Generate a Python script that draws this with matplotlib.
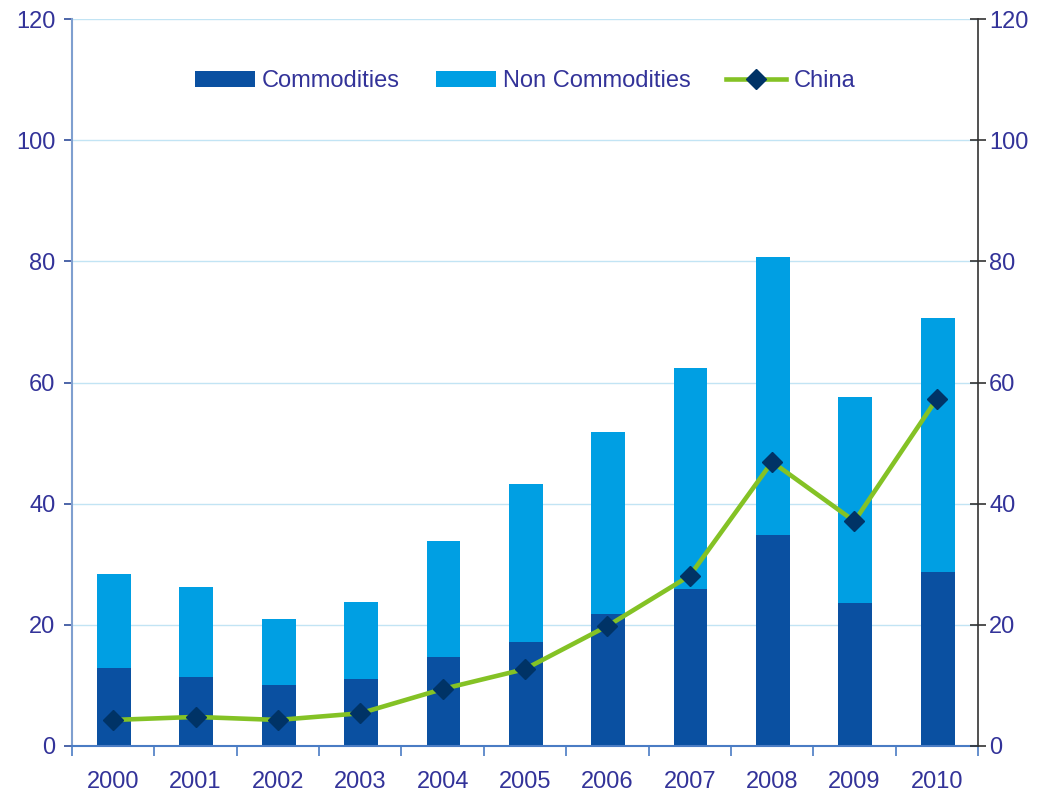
import matplotlib
matplotlib.use("Agg")
import matplotlib.pyplot as plt
import numpy as np

years = ["2000", "2001", "2002", "2003", "2004", "2005", "2006", "2007", "2008", "2009", "2010"]
commodities = [12.9, 11.4, 10.1, 11.1, 14.7, 17.2, 21.8, 25.9, 34.8, 23.6, 28.7]
totals = [28.4, 26.2, 21.0, 23.8, 33.8, 43.2, 51.8, 62.4, 80.7, 57.6, 70.6]
non_commodities = [t - c for t, c in zip(totals, commodities)]
china = [4.3, 4.8, 4.3, 5.4, 9.4, 12.7, 19.8, 28.1, 46.9, 37.1, 57.3]
yticks = [0, 20, 40, 60, 80, 100, 120]

plt.rcParams['font.family'] = ['Liberation Sans', 'DejaVu Sans']
txt = '#333399'
fs = 17

fig = plt.figure(figsize=(10.45, 7.94), dpi=100)
ax = fig.add_axes([72/1045, 1-746/794, (978-72)/1045, (746-19)/794])
x = np.arange(len(years))
w = 0.41
b1 = ax.bar(x + 0.01, commodities, w, color='#0A50A1', label='Commodities', zorder=2)
b2 = ax.bar(x + 0.01, non_commodities, w, bottom=commodities, color='#009FE3', label='Non Commodities', zorder=2)
ln, = ax.plot(x, china, color='#84C225', lw=3.3, marker='D', markersize=10,
              markerfacecolor='#003366', markeredgecolor='#003366', label='China', zorder=3)

ax.set_xlim(-0.5, len(years)-0.5)
ax.set_ylim(0, 120)
ax.set_yticks(yticks)
ax.grid(axis='y', color='#C2E4F4', lw=1, zorder=0)
ax.set_axisbelow(True)
ax.set_xticks(x)
ax.set_xticklabels(years)
ax.set_xticks(np.arange(-0.5, len(years), 1.0), minor=True)
ax.tick_params(axis='x', which='major', length=0, labelsize=fs, labelcolor=txt, pad=18)
ax.tick_params(axis='x', which='minor', length=7, direction='out', color='#4A7CC4', width=1.2)
ax.tick_params(axis='y', length=6, direction='out', color='#2F4C9A', width=1.2, labelsize=fs, labelcolor=txt, pad=6)
for s in ['top', 'right']:
    ax.spines[s].set_visible(False)
ax.spines['left'].set_color('#7F9FCF')
ax.spines['left'].set_linewidth(1.5)
ax.spines['bottom'].set_color('#4A7CC4')
ax.spines['bottom'].set_linewidth(1.5)

ax2 = ax.twinx()
ax2.set_ylim(0, 120)
ax2.set_yticks(yticks)
for s in ['top', 'left', 'bottom']:
    ax2.spines[s].set_visible(False)
ax2.spines['right'].set_color('#333333')
ax2.spines['right'].set_linewidth(1.2)
ax2.tick_params(axis='y', length=12, direction='inout', color='#333333', width=1.2, labelsize=fs, labelcolor=txt, pad=2)

leg = ax.legend([b1, b2, ln], ['Commodities', 'Non Commodities', 'China'],
                loc='center', bbox_to_anchor=(0.5, 1-(81-19)/727), ncol=3, frameon=False,
                fontsize=fs, labelcolor=txt, handlelength=2.55, handleheight=0.65,
                columnspacing=1.5, handletextpad=0.3)

fig.savefig('out.png', dpi=100)
